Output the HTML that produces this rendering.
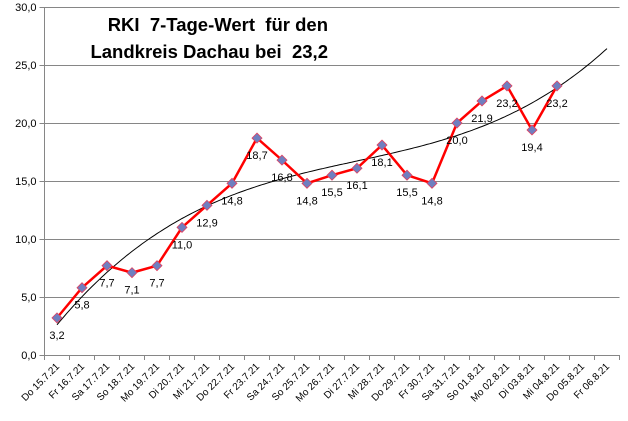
<!DOCTYPE html>
<html><head><meta charset="utf-8"><style>
body{margin:0;background:#fff;width:628px;height:416px;overflow:hidden}
svg text{font-family:"Liberation Sans",sans-serif}
</style></head><body>
<svg id="c" width="628" height="416"></svg>
<script>
const categories=["Do 15.7.21","Fr 16.7.21","Sa 17.7.21","So 18.7.21","Mo 19.7.21","Di 20.7.21","Mi 21.7.21","Do 22.7.21","Fr 23.7.21","Sa 24.7.21","So 25.7.21","Mo 26.7.21","Di 27.7.21","Mi 28.7.21","Do 29.7.21","Fr 30.7.21","Sa 31.7.21","So 01.8.21","Mo 02.8.21","Di 03.8.21","Mi 04.8.21","Do 05.8.21","Fr 06.8.21"];
const values=[3.2,5.8,7.7,7.1,7.7,11.0,12.9,14.8,18.7,16.8,14.8,15.5,16.1,18.1,15.5,14.8,20.0,21.9,23.2,19.4,23.2];
const valueLabels=["3,2","5,8","7,7","7,1","7,7","11,0","12,9","14,8","18,7","16,8","14,8","15,5","16,1","18,1","15,5","14,8","20,0","21,9","23,2","19,4","23,2"];
const yTicks=[0,5,10,15,20,25,30];
const yTickLabels=["0,0","5,0","10,0","15,0","20,0","25,0","30,0"];
const svg=document.getElementById('c');const NS='http://www.w3.org/2000/svg';
const L=44.5,R=619.5,T=7,B=355,step=(R-L)/categories.length;
const X=i=>L+step*(i+0.5), Y=v=>B-(v/30)*(B-T);
function mk(t,a,p){const e=document.createElementNS(NS,t);for(const k in a)e.setAttribute(k,a[k]);(p||svg).appendChild(e);return e;}
yTicks.forEach((v,i)=>{
 const g=mk('line',{x1:L-5,x2:R,y1:Y(v)+0.5,y2:Y(v)+0.5,stroke:'#868686','stroke-width':1});
 
 
 const t=mk('text',{x:L-8,y:Y(v)+4,'text-anchor':'end','font-size':11,fill:'#000'});t.textContent=yTickLabels[i];
 
 
});
const ax=mk('line',{x1:L,x2:L,y1:T,y2:B+5,stroke:'#868686'});


for(let i=0;i<=categories.length;i++){const tk=mk('line',{x1:L+step*i,x2:L+step*i,y1:B,y2:B+5,stroke:'#868686'});
 
 }
categories.forEach((c,i)=>{const x=X(i)+3,y=B+12;
 const t=mk('text',{x:x,y:y,'text-anchor':'end','font-size':10,transform:`rotate(-45 ${x} ${y})`});t.textContent=c;
 
 });
const n=values.length;const M=[[0,0,0,0],[0,0,0,0],[0,0,0,0],[0,0,0,0]],V=[0,0,0,0];
values.forEach((v,i)=>{const x=i+1;for(let a=0;a<4;a++){V[a]+=v*x**a;for(let b=0;b<4;b++)M[a][b]+=x**(a+b);}});
for(let a=0;a<4;a++){for(let r=a+1;r<4;r++){const f=M[r][a]/M[a][a];for(let b=a;b<4;b++)M[r][b]-=f*M[a][b];V[r]-=f*V[a];}}
const co=[0,0,0,0];for(let a=3;a>=0;a--){let s=V[a];for(let b=a+1;b<4;b++)s-=M[a][b]*co[b];co[a]=s/M[a][a];}
let d='';for(let k=0;k<=220;k++){const x=1+k*(22/220);const v=co[0]+co[1]*x+co[2]*x*x+co[3]*x**3;d+=(k?'L':'M')+X(x-1).toFixed(1)+' '+Y(v).toFixed(1);}
const tr=mk('path',{d:d,fill:'none',stroke:'#000','stroke-width':1});


const ln=mk('polyline',{points:values.map((v,i)=>X(i)+','+Y(v)).join(' '),fill:'none',stroke:'#ff0000','stroke-width':2.5});


values.forEach((v,i)=>{const x=X(i),y=Y(v);
 const p=mk('polygon',{points:`${x},${y-5} ${x+5},${y} ${x},${y+5} ${x-5},${y}`,fill:'#6f7fc0',stroke:'#e04060','stroke-width':0.8});
 
 
 const t=mk('text',{x:x,y:y+21,'text-anchor':'middle','font-size':11});t.textContent=valueLabels[i];
 
 
});
['RKI  7-Tage-Wert  für den','Landkreis Dachau bei  23,2'].forEach((s,i)=>{
 const t=mk('text',{x:328,y:31+i*27,'text-anchor':'end','font-size':18.5,'font-weight':'bold',style:'white-space:pre'});t.textContent=s;
 
 });
</script>
</body></html>
